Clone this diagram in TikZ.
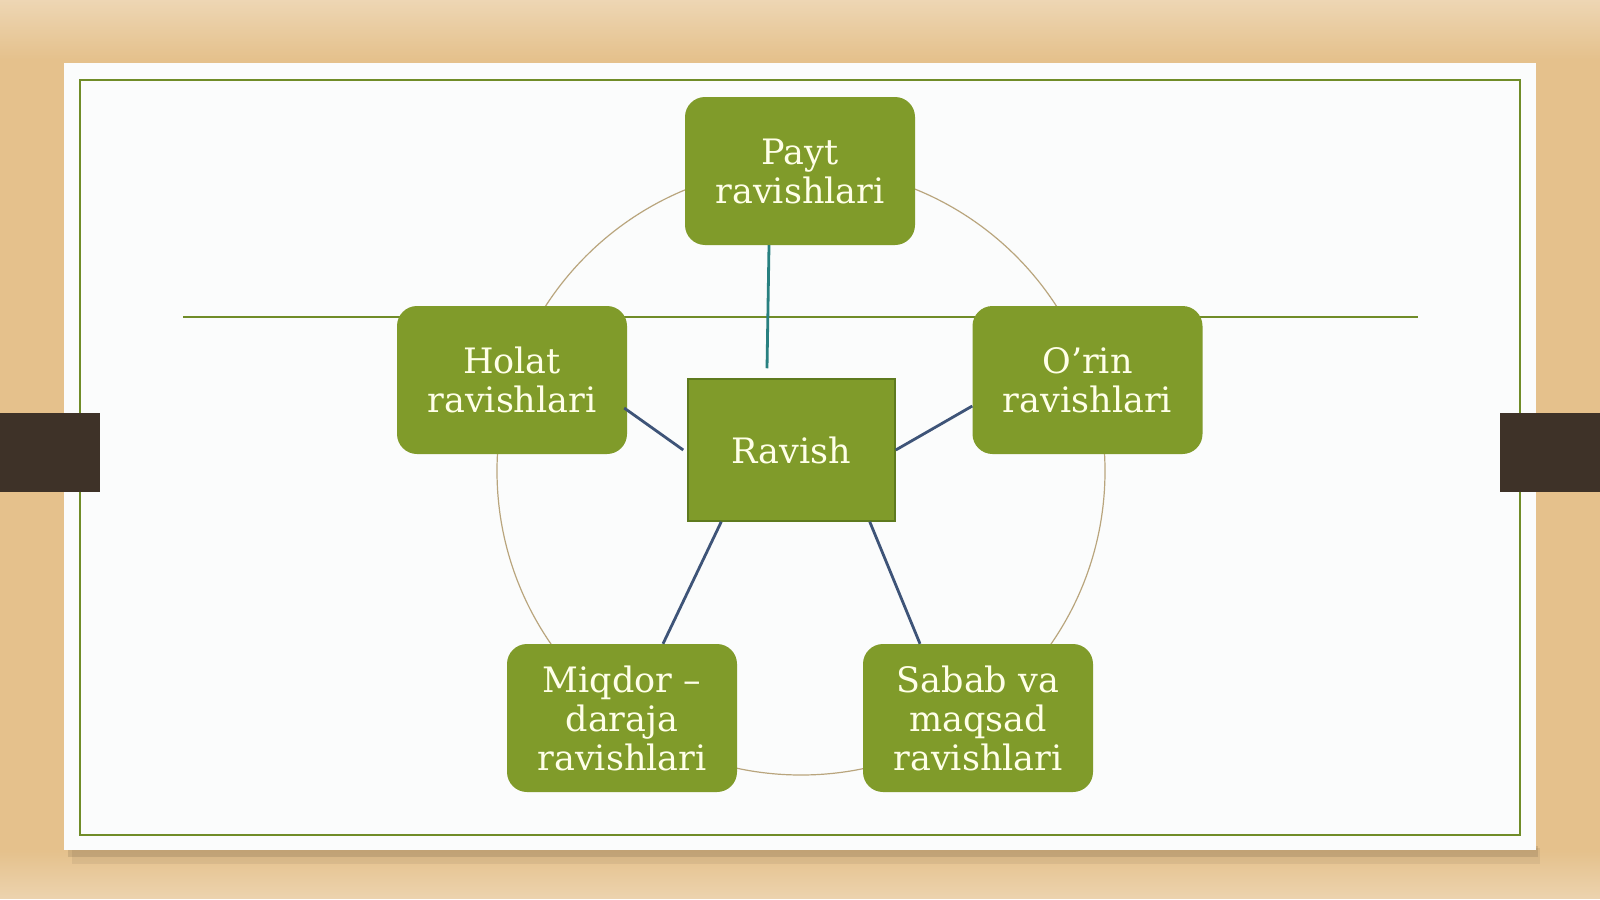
\documentclass[tikz,border=0pt]{standalone}
\usepackage{fontspec}
\setmainfont{DejaVu Serif}
\usetikzlibrary{positioning}
\definecolor{wood}{RGB}{229,193,140}
\definecolor{paper}{RGB}{251,252,252}
\definecolor{olive}{RGB}{128,155,42}
\definecolor{olivedark}{RGB}{94,122,30}
\definecolor{frameline}{RGB}{112,140,40}
\definecolor{ring}{RGB}{185,165,125}
\definecolor{tealline}{RGB}{40,128,128}
\definecolor{slateline}{RGB}{62,84,120}
\definecolor{tab}{RGB}{62,50,40}
\definecolor{cream}{RGB}{255,255,232}
\tikzset{leaf/.style={shape=rectangle, rounded corners=20pt, fill=olive,
    text=cream, minimum width=230pt, minimum height=148pt, inner sep=0pt,
    align=center, font=\fontsize{35}{39}\selectfont}}
\tikzset{hub/.style={leaf, rounded corners=0pt, draw=olivedark, line width=1.5pt,
    minimum width=207pt, minimum height=142pt}}
\tikzset{spoke/.style={draw=slateline, line width=2.8pt}}

\begin{document}
\begin{tikzpicture}[x=1pt, y=-1pt]
  \tikzstyle{every node}=[font=\fontsize{35}{39}\selectfont]
    \useasboundingbox (0,0) rectangle (1600,899);

    %%%% Background
    \fill[wood] (0,0) rectangle (1600,899);
    \shade[top color=white, bottom color=wood, opacity=.35] (0,0) rectangle (1600,60);
    \shade[top color=wood, bottom color=white, opacity=.3] (0,850) rectangle (1600,899);

    %%%% Paper and frame
    \fill[black, opacity=.06] (72,848) rectangle (1540,864);
    \fill[black, opacity=.10] (68,846) rectangle (1538,857);
    \fill[paper] (64,63) rectangle (1536,850);
    \draw[frameline, line width=1.5pt] (80,80) rectangle (1520,835);

    %%%% Tabs
    \fill[tab] (0,413) rectangle (100,492);
    \fill[tab] (1500,413) rectangle (1600,492);

    %%%% Ring and rule
    \draw[ring, line width=1.2pt] (801,471) circle (304);
    \draw[frameline, line width=1.5pt] (183,317) -- (1418,317);

    %%%% Boxes
    \node[hub](ravish) at (791.5,450) {Ravish};
    \node[leaf](payt) at (800,171) {Payt\\ravishlari};
    \node[leaf](holat) at (512,380) {Holat\\ravishlari};
    \node[leaf](orin) at (1087.5,380) {O’rin\\ravishlari};
    \node[leaf](miqdor) at (622,718) {Miqdor –\\daraja\\ravishlari};
    \node[leaf](sabab) at (978,718) {Sabab va\\maqsad\\ravishlari};

    %%%% Spokes
    \draw[spoke, draw=tealline] ([xshift=-31pt]payt.south) -- ([xshift=-24.5pt, yshift=10pt]ravish.north);
    \draw[spoke] ([xshift=-3pt, yshift=-28pt]holat.east) -- ([xshift=-4pt]ravish.west);
    \draw[spoke] ([yshift=-26pt]orin.west) -- (ravish.east);
    \draw[spoke] ([xshift=34pt]ravish.south west) -- ([xshift=41pt]miqdor.north);
    \draw[spoke] ([xshift=-26pt]ravish.south east) -- ([xshift=-58pt]sabab.north);

  \end{tikzpicture}
\end{document}
